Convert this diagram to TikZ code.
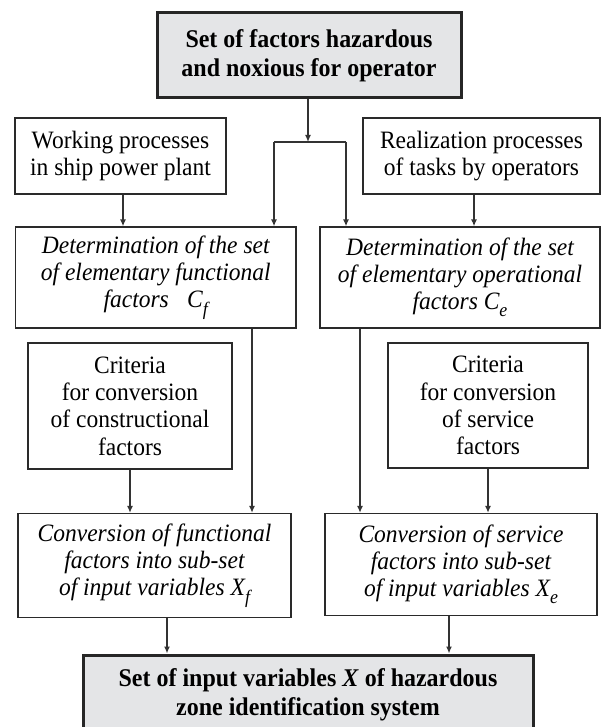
\documentclass[tikz,border=0pt]{standalone}
\usepackage{fontspec}
\setmainfont{Liberation Serif}[FakeStretch=0.94]
\usetikzlibrary{arrows.meta}

\definecolor{keyfill}{HTML}{E4E5E7}
\definecolor{boxline}{HTML}{2A2A2A}
\definecolor{linegray}{HTML}{333333}

% lowered italic subscript used in the box texts
\newcommand{\lowsub}[1]{\raisebox{-0.3em}{\fontsize{19}{19}\selectfont\itshape #1}}

\tikzset{
  box/.style={draw=boxline, line width=1.3pt, align=center, inner sep=0pt,
              font=\fontsize{25}{27.3}\selectfont},
  ibox/.style={box, font=\fontsize{25}{27}\selectfont\itshape},
  keybox/.style={draw=black!85, line width=3pt, fill=keyfill, align=center,
                 inner sep=0pt, font=\fontsize{25.5}{29.5}\selectfont\bfseries},
  link/.style={draw=linegray, line width=1.3pt},
  arr/.style={link, -{Latex[length=7pt,width=6pt]}},
}

\begin{document}
\begin{tikzpicture}[x=1pt, y=-1pt]
\clip (0,0) rectangle (601,727);

% boxes
\node[keybox, minimum width=304pt, minimum height=85pt] (top) at (309,55.5)
  {Set of factors hazardous\\and noxious for operator};

\node[box, minimum width=211pt, minimum height=76pt] (work) at (120.5,156)
  {Working processes\\in ship power plant};
\node[box, minimum width=237pt, minimum height=76pt] (real) at (481.5,156)
  {Realization processes\\of tasks by operators};

\node[ibox, minimum width=280.5pt, minimum height=101pt] (detL) at (155.75,277.5)
  {Determination of the set\\of elementary functional\\factors\hspace{0.5em} C\lowsub{f}};
\node[ibox, minimum width=280pt, minimum height=101pt] (detR) at (460,277.5)
  {Determination of the set\\of elementary operational\\factors C\lowsub{e}};

\node[box, minimum width=204pt, minimum height=126pt] (critL) at (130,406)
  {Criteria\\for conversion\\of constructional\\factors};
\node[box, minimum width=200pt, minimum height=125pt] (critR) at (488,405.5)
  {Criteria\\for conversion\\of service\\factors};

\node[ibox, minimum width=273pt, minimum height=104pt] (convL) at (154.5,565.5)
  {Conversion of functional\\factors into sub-set\\of input variables X\lowsub{f}};
\node[ibox, minimum width=272pt, minimum height=102pt] (convR) at (461,564.5)
  {Conversion of service\\factors into sub-set\\of input variables X\lowsub{e}};

\node[keybox, minimum width=450pt, minimum height=80pt] (bot) at (308,695)
  {Set of input variables \textit{X} of hazardous\\zone identification system};

% branching from the top box
\coordinate (jm) at (308,142);
\coordinate (jl) at (274,142);
\coordinate (jr) at (346,142);
\draw[arr] (top.south -| jm) -- (jm);
\draw[link] (jl) -- (jr);
\draw[arr] (jl) -- (jl |- detL.north);
\draw[arr] (jr) -- (jr |- detR.north);

% process boxes into determination boxes
\coordinate (xw) at (123,0);
\coordinate (xr) at (474,0);
\draw[arr] (work.south -| xw) -- (detL.north -| xw);
\draw[arr] (real.south -| xr) -- (detR.north -| xr);

% determination and criteria into conversion boxes
\coordinate (xdl) at (252,0);
\coordinate (xdr) at (360,0);
\draw[arr] (detL.south -| xdl) -- (convL.north -| xdl);
\draw[arr] (detR.south -| xdr) -- (convR.north -| xdr);
\draw[arr] (critL.south) -- (critL.south |- convL.north);
\draw[arr] (critR.south) -- (critR.south |- convR.north);

% conversion boxes into the resulting set
\coordinate (xcl) at (167,0);
\coordinate (xcr) at (449,0);
\draw[arr] (convL.south -| xcl) -- (bot.north -| xcl);
\draw[arr] (convR.south -| xcr) -- (bot.north -| xcr);
\end{tikzpicture}
\end{document}
